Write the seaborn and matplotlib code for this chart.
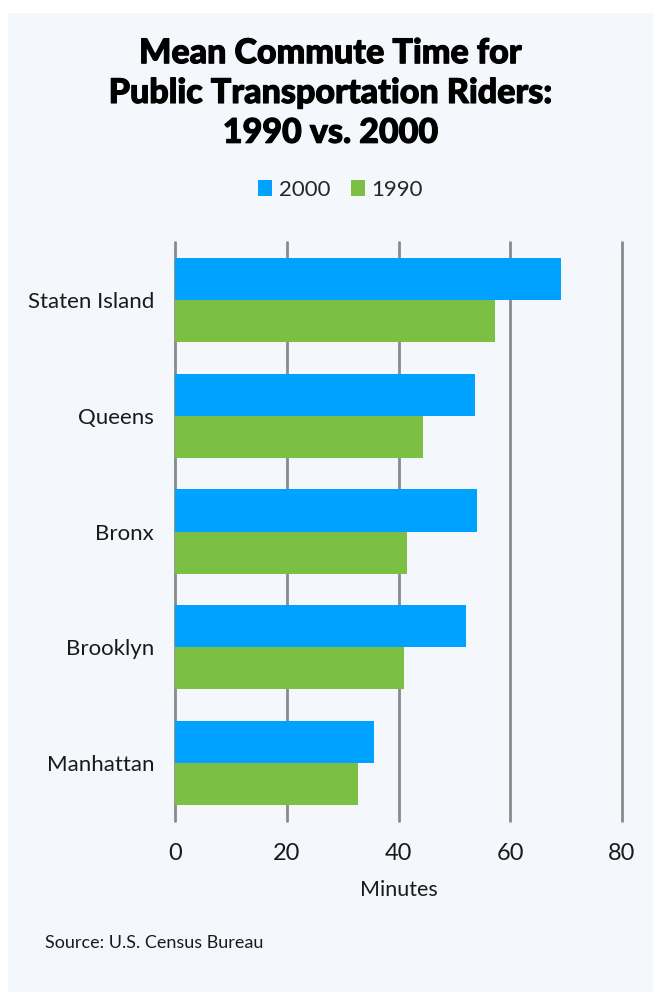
import matplotlib
matplotlib.use("Agg")
import matplotlib.pyplot as plt
import matplotlib.patches as mpatches
import matplotlib.patheffects as pe
import seaborn as sns
import pandas as pd

boroughs = ["Staten Island", "Queens", "Bronx", "Brooklyn", "Manhattan"]
years = ["2000", "1990"]
values_2000 = [69.1, 53.7, 54.0, 52.1, 35.6]
values_1990 = [57.3, 44.4, 41.5, 41.0, 32.8]
x_ticks = [0, 20, 40, 60, 80]
colors = {"2000": "#00a2ff", "1990": "#7bc043"}

df = pd.DataFrame({
    "Borough": boroughs * 2,
    "Year": ["2000"] * len(boroughs) + ["1990"] * len(boroughs),
    "Minutes": values_2000 + values_1990,
})

sns.set_theme(style="white")
plt.rcParams["font.family"] = ["Lato", "DejaVu Sans"]

W, H = 653, 992
fig = plt.figure(figsize=(W / 100, H / 100), dpi=100)
fig.patch.set_facecolor("white")
panel = mpatches.Rectangle((8 / W, 0), 1 - 8 / W, 1 - 13 / H, transform=fig.transFigure,
                           facecolor="#f4f8fc", edgecolor="none", zorder=-10)
fig.patches.append(panel)

ax = fig.add_axes([175 / W, 1 - 821 / H, (622 - 175) / W, (821 - 242) / H])
ax.set_facecolor("none")
sns.barplot(data=df, y="Borough", x="Minutes", hue="Year", hue_order=years,
            order=boroughs, palette=colors, orient="h", width=0.726,
            saturation=1, ax=ax, legend=False, zorder=3, linewidth=0, edgecolor="none")
ax.set_xlim(0, 80)
ax.set_ylim(4.5, -0.5)
ax.set_xticks(x_ticks)
ax.set_xticklabels([str(t) for t in x_ticks], fontsize=17, color="#1a1a1a")
ax.tick_params(axis="x", length=0, pad=16)
ax.tick_params(axis="y", length=0, pad=15, labelsize=16, labelcolor="#1a1a1a")
for t in x_ticks:
    ax.axvline(t, color="#8a8a8a", lw=2, zorder=1, clip_on=False)
for s in ax.spines.values():
    s.set_visible(False)
ax.set_ylabel("")
ax.set_xlabel("Minutes", fontsize=15.5, color="#1a1a1a", labelpad=11)

fig.text(0.5 + 4 / W, 1 - 93 / H,
         "Mean Commute Time for\nPublic Transportation Riders:\n1990 vs. 2000",
         ha="center", va="center", fontsize=24.5, fontweight="black",
         color="black", linespacing=1.3,
         path_effects=[pe.withStroke(linewidth=0.8, foreground="black")])

handles = [mpatches.Patch(facecolor=colors[y], edgecolor="none", label=y) for y in years]
fig.legend(handles=handles, loc="center", bbox_to_anchor=(340.5 / W, 1 - 190 / H),
           ncol=2, frameon=False, handlelength=0.65, handleheight=0.7,
           handletextpad=0.3, columnspacing=0.9, prop={"size": 16})

fig.text(45 / W, 1 - 943 / H, "Source: U.S. Census Bureau", ha="left", va="center",
         fontsize=13, color="#1a1a1a")

fig.savefig("out.png", dpi=100)
